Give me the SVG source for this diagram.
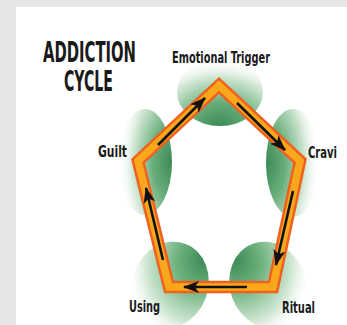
<svg xmlns="http://www.w3.org/2000/svg" width="347" height="325" viewBox="0 0 347 325">
<style>
.lbl{font-family:"Liberation Sans Narrow","DejaVu Sans Condensed","Liberation Sans",sans-serif;font-weight:bold;fill:#1a1a1a}
.band-o{fill:none;stroke:#f0601f;stroke-width:12.5;stroke-linejoin:miter}
.band-i{fill:none;stroke:#f9a81c;stroke-width:7.5;stroke-linejoin:miter}
.arr{fill:none;stroke:#111;stroke-width:2.6;marker-end:url(#ah)}
</style>
<defs>
<marker id="ah" markerUnits="userSpaceOnUse" markerWidth="18" markerHeight="12" refX="15" refY="6" orient="auto">
<path d="M0,0 L16,6 L0,12 L4,6 z" fill="#111"/>
</marker>
<radialGradient id="gTop" cx="0.5" cy="1" r="1">
<stop offset="0" stop-color="#3c8a56"/>
<stop offset="0.35" stop-color="#68ad7a"/>
<stop offset="0.7" stop-color="#c9e3cd"/>
<stop offset="1" stop-color="#ffffff" stop-opacity="0"/>
</radialGradient>
<radialGradient id="gR" cx="0" cy="0.5" r="1">
<stop offset="0" stop-color="#3c8a56"/>
<stop offset="0.35" stop-color="#68ad7a"/>
<stop offset="0.7" stop-color="#c9e3cd"/>
<stop offset="1" stop-color="#ffffff" stop-opacity="0"/>
</radialGradient>
<radialGradient id="gL" cx="1" cy="0.5" r="1">
<stop offset="0" stop-color="#3c8a56"/>
<stop offset="0.35" stop-color="#68ad7a"/>
<stop offset="0.7" stop-color="#c9e3cd"/>
<stop offset="1" stop-color="#ffffff" stop-opacity="0"/>
</radialGradient>
<radialGradient id="gBL" cx="0.8" cy="0.1" r="1">
<stop offset="0" stop-color="#3c8a56"/>
<stop offset="0.35" stop-color="#6fb27f"/>
<stop offset="0.75" stop-color="#d3e9d6"/>
<stop offset="1" stop-color="#ffffff" stop-opacity="0"/>
</radialGradient>
<radialGradient id="gBR" cx="0.2" cy="0.1" r="1">
<stop offset="0" stop-color="#3c8a56"/>
<stop offset="0.35" stop-color="#6fb27f"/>
<stop offset="0.75" stop-color="#d3e9d6"/>
<stop offset="1" stop-color="#ffffff" stop-opacity="0"/>
</radialGradient>
</defs>
<rect x="0" y="0" width="347" height="325" fill="#e6e6e6"/>
<rect x="16" y="7" width="331" height="318" fill="#ffffff"/>
<g id="title">
<text class="lbl" x="43" y="62" font-size="29" textLength="93" lengthAdjust="spacingAndGlyphs">ADDICTION</text>
<text class="lbl" x="64" y="91" font-size="29" textLength="49" lengthAdjust="spacingAndGlyphs">CYCLE</text>
</g>
<g id="node-emotional-trigger">
<ellipse cx="220" cy="92" rx="43" ry="34" fill="url(#gTop)"/>
<text class="lbl" x="172" y="63" font-size="15.5" textLength="98" lengthAdjust="spacingAndGlyphs">Emotional Trigger</text>
</g>
<g id="node-craving">
<ellipse cx="293" cy="163" rx="27" ry="54" fill="url(#gR)"/>
<text class="lbl" x="308" y="158" font-size="16" textLength="29" lengthAdjust="spacingAndGlyphs">Cravi</text>
</g>
<g id="node-ritual">
<ellipse cx="268" cy="285" rx="38" ry="44" fill="url(#gBR)" transform="rotate(-20 268 285)"/>
<text class="lbl" x="282" y="313" font-size="16" textLength="33" lengthAdjust="spacingAndGlyphs">Ritual</text>
</g>
<g id="node-using">
<ellipse cx="170" cy="285" rx="38" ry="44" fill="url(#gBL)" transform="rotate(20 170 285)"/>
<text class="lbl" x="129" y="312" font-size="16" textLength="31" lengthAdjust="spacingAndGlyphs">Using</text>
</g>
<g id="node-guilt">
<ellipse cx="145" cy="162" rx="27" ry="53" fill="url(#gL)"/>
<text class="lbl" x="98" y="157" font-size="16" textLength="29" lengthAdjust="spacingAndGlyphs">Guilt</text>
</g>
<g id="connectors">
<polygon class="band-o" points="219,85.5 300,161 273,287 169,287 138,161"/>
<polygon class="band-i" points="219,85.5 300,161 273,287 169,287 138,161"/>
<line class="arr" x1="158" y1="145" x2="205" y2="98"/>
<line class="arr" x1="237" y1="103" x2="285" y2="150"/>
<line class="arr" x1="293" y1="191" x2="276" y2="265"/>
<line class="arr" x1="247" y1="287" x2="184" y2="287"/>
<line class="arr" x1="163" y1="260" x2="146" y2="188"/>
</g>
</svg>
